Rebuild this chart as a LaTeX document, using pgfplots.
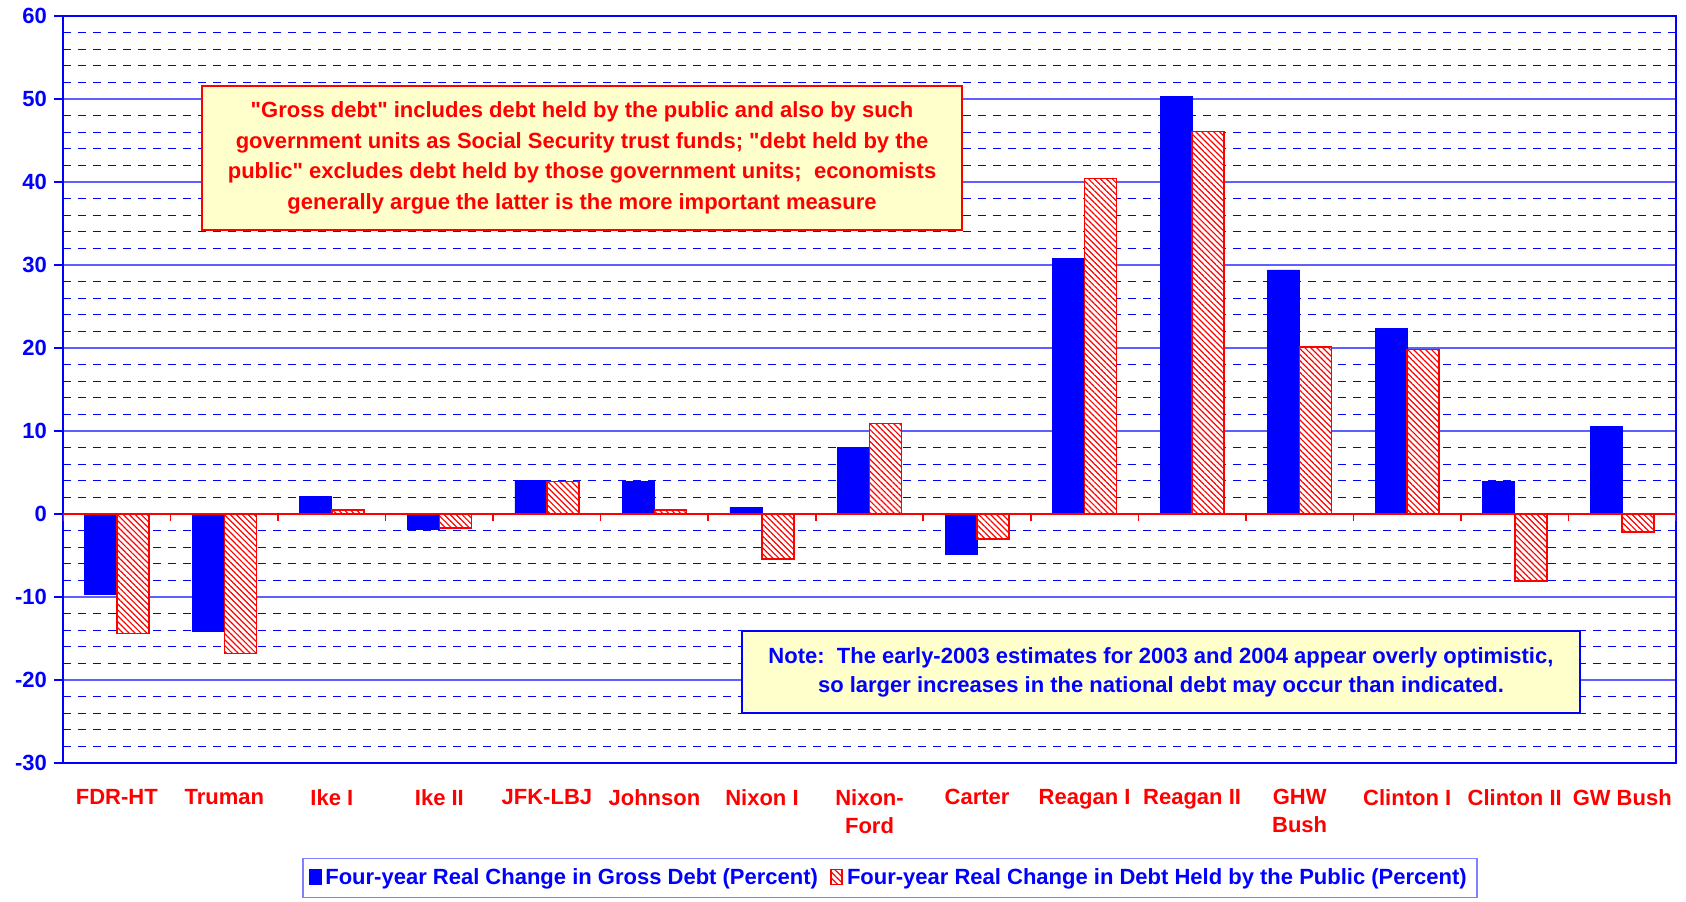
\documentclass[border=0pt]{standalone}
\usepackage{fontspec}
\setmainfont{Liberation Sans}
\usepackage{pgfplots}
\pgfplotsset{compat=1.18}
\usetikzlibrary{patterns.meta}

\definecolor{xlblue}{RGB}{0,0,255}
\definecolor{xlred}{RGB}{255,0,0}
\definecolor{gridblue}{RGB}{95,95,255}
\definecolor{legblue}{RGB}{128,128,255}
\definecolor{notefill}{RGB}{255,255,204}

\newcommand{\lblfont}{\bfseries\fontsize{11}{14}\selectfont}
\newcommand{\q}{\textquotedbl}

\begin{document}
\begin{tikzpicture}
\begin{axis}[
  scale only axis,
  width=806.5pt, height=373.5pt,
  ybar=0pt, bar width=16pt,
  xmin=-0.5, xmax=14.5,
  ymin=-30, ymax=60,
  ytick={-30,-20,...,60},
  minor y tick num=4,
  xtick={0,...,14},
  xticklabels={FDR-HT, Truman, Ike I, Ike II, JFK-LBJ, Johnson, Nixon I,
    Nixon-\\Ford, Carter, Reagan I, Reagan II, GHW\\Bush, Clinton I,
    Clinton II, GW Bush},
  ymajorgrids, yminorgrids,
  major grid style={gridblue, line width=0.6pt},
  minor grid style={xlblue, line width=0.6pt, dash pattern=on 4pt off 3.5pt},
  axis line style={xlblue, line width=1pt},
  tick align=outside,
  ytick pos=left,
  major tick length=4.5pt,
  minor tick length=0pt,
  ytick style={xlblue, line width=0.8pt},
  xtick style={draw=none},
  /pgf/number format/assume math mode=true,
  yticklabel style={font=\lblfont, text=xlblue},
  xticklabel style={font=\lblfont, text=xlred, align=center, yshift=-5pt},
  legend columns=2,
  legend cell align=left,
  legend style={at={(0.5127,-0.127)}, anchor=north, draw=legblue,
    line width=0.8pt, font=\lblfont, text=xlblue, inner xsep=3pt, inner ysep=3pt,
    /tikz/every even column/.append style={column sep=4pt}},
  legend image code/.code={\draw[#1] (0cm,-0.11cm) rectangle (0.2cm,0.15cm);},
]
% Four-year real change in gross debt
\addplot[fill=xlblue, draw=xlblue, line width=0.4pt] coordinates {
  (0,-9.7) (1,-14.1) (2,2.1) (3,-1.9) (4,4.0) (5,3.9) (6,0.8) (7,8.0)
  (8,-4.9) (9,30.8) (10,50.3) (11,29.4) (12,22.4) (13,3.9) (14,10.5)};
% Four-year real change in debt held by the public
\addplot[fill=white, draw=xlred, line width=0.8pt,
  postaction={pattern={Lines[angle=-45,distance=2.1pt,line width=0.6pt]}, pattern color=xlred}]
  coordinates {
  (0,-14.4) (1,-16.8) (2,0.5) (3,-1.7) (4,3.9) (5,0.5) (6,-5.4) (7,10.9)
  (8,-3.0) (9,40.4) (10,46.1) (11,20.1) (12,19.8) (13,-8.1) (14,-2.2)};
\legend{Four-year Real Change in Gross Debt (Percent),
  Four-year Real Change in Debt Held by the Public (Percent)}

% zero line with category separators
\draw[xlred, line width=1pt] (axis cs:-0.5,0) -- (axis cs:14.5,0);
\pgfplotsinvokeforeach{-0.5,0.5,...,14.5}{
  \draw[xlred, line width=0.8pt] (axis cs:#1,0) -- ([yshift=-3.5pt]axis cs:#1,0);}

\node[draw=xlred, line width=1pt, fill=notefill, text=xlred,
  font=\bfseries\fontsize{11}{15.3}\selectfont, align=center,
  minimum width=380pt, minimum height=72pt, inner sep=0pt]
  at (rel axis cs:0.3218,0.8099)
  {\q Gross debt\q{} includes debt held by the public and also by such\\
   government units as Social Security trust funds; \q debt held by the\\
   public\q{} excludes debt held by those government units;\ \ economists\\
   generally argue the latter is the more important measure};

\node[draw=xlblue, line width=1pt, fill=notefill, text=xlblue,
  font=\bfseries\fontsize{11}{14.5}\selectfont, align=center,
  minimum width=419pt, minimum height=41pt, inner sep=0pt]
  at (rel axis cs:0.6807,0.1218)
  {Note:\ \ The early-2003 estimates for 2003 and 2004 appear overly optimistic,\\
   so larger increases in the national debt may occur than indicated.};
\end{axis}
\pgfresetboundingbox
\path ([shift={(-31.5pt,-69.5pt)}]current axis.south west)
  rectangle ([shift={(5pt,8pt)}]current axis.north east);
\end{tikzpicture}
\end{document}
